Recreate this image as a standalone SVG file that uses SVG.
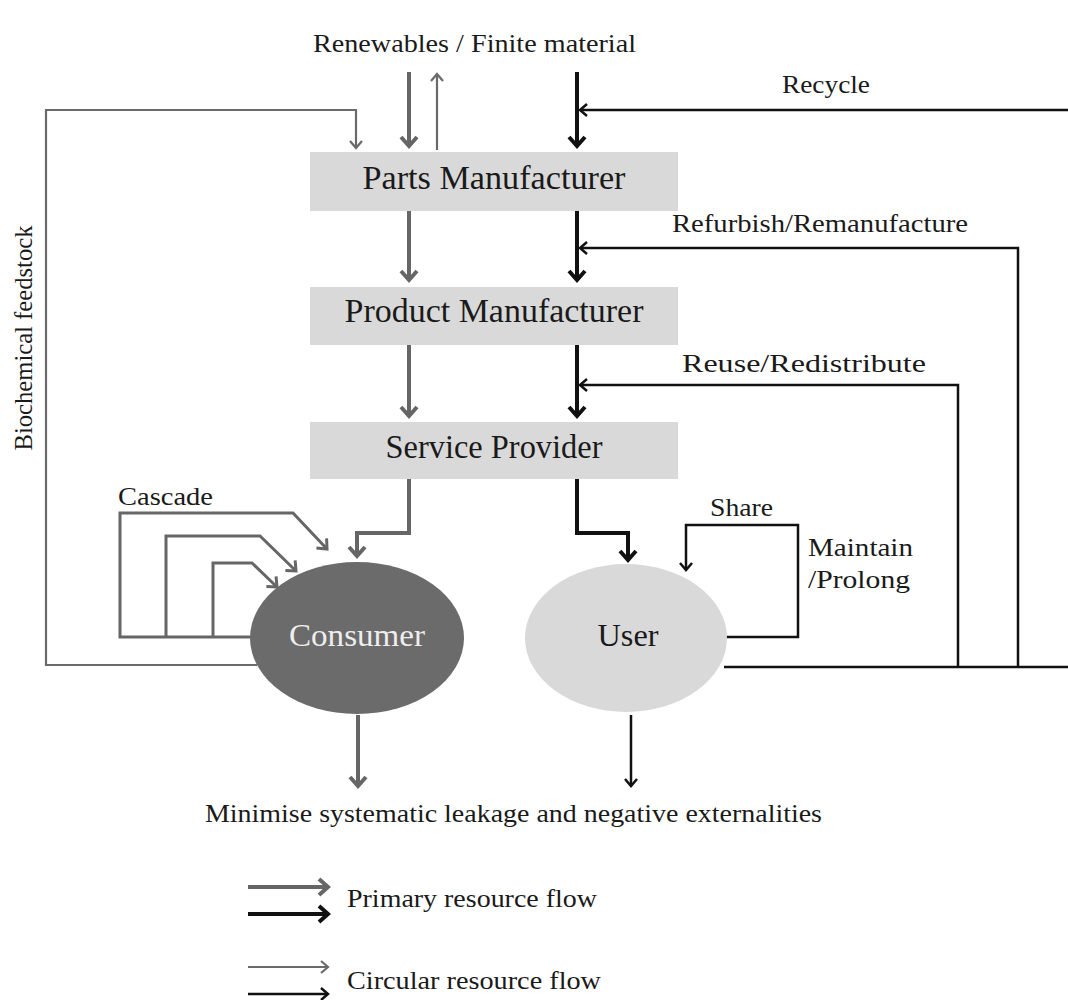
<svg xmlns="http://www.w3.org/2000/svg" width="1068" height="1000" viewBox="0 0 1068 1000">
<style>
text{font-family:"Liberation Serif","Times New Roman",serif;fill:#1a1a1a}
.lbl{font-size:26px}
.box{font-size:33px}
.box rect{fill:#d9d9d9}
.pg{fill:none;stroke:#666;stroke-width:4}
.pb{fill:none;stroke:#111;stroke-width:4}
.cg{fill:none;stroke:#6a6a6a;stroke-width:2.2}
.cb{fill:none;stroke:#111;stroke-width:2.5}
.cas{fill:none;stroke:#666;stroke-width:3}
</style>
<defs>
<marker id="mpg" viewBox="-14 -10 20 20" refX="0" refY="0" markerWidth="20" markerHeight="20" markerUnits="userSpaceOnUse" orient="auto" overflow="visible"><path d="M-9,-8 L0,0 L-9,8" fill="none" stroke="#666" stroke-width="4"/></marker>
<marker id="mpb" viewBox="-14 -10 20 20" refX="0" refY="0" markerWidth="20" markerHeight="20" markerUnits="userSpaceOnUse" orient="auto" overflow="visible"><path d="M-9,-8 L0,0 L-9,8" fill="none" stroke="#111" stroke-width="4"/></marker>
<marker id="mcg" viewBox="-14 -10 20 20" refX="0" refY="0" markerWidth="20" markerHeight="20" markerUnits="userSpaceOnUse" orient="auto" overflow="visible"><path d="M-7,-6 L0,0 L-7,6" fill="none" stroke="#6a6a6a" stroke-width="2.2"/></marker>
<marker id="mcb" viewBox="-14 -10 20 20" refX="0" refY="0" markerWidth="20" markerHeight="20" markerUnits="userSpaceOnUse" orient="auto" overflow="visible"><path d="M-7,-6 L0,0 L-7,6" fill="none" stroke="#111" stroke-width="2.5"/></marker>
<marker id="mcas" viewBox="-14 -10 20 20" refX="0" refY="0" markerWidth="20" markerHeight="20" markerUnits="userSpaceOnUse" orient="auto" overflow="visible"><path d="M-8,-7 L0,0 L-8,7" fill="none" stroke="#666" stroke-width="3"/></marker>
</defs>
<rect width="1068" height="1000" fill="#fff"/>

<g id="connectors">
<path class="pg" d="M409,72 V146" marker-end="url(#mpg)"/>
<path class="cg" d="M437,150 V74" marker-end="url(#mcg)"/>
<path class="pb" d="M577,72 V146" marker-end="url(#mpb)"/>
<path class="cb" d="M1068,110 H580" marker-end="url(#mcb)"/>
<path class="cg" d="M257,665 H46 V110 H356 V148" marker-end="url(#mcg)"/>
<path class="pg" d="M409,211 V280" marker-end="url(#mpg)"/>
<path class="pb" d="M577,211 V280" marker-end="url(#mpb)"/>
<path class="pg" d="M409,345 V416" marker-end="url(#mpg)"/>
<path class="pb" d="M577,345 V416" marker-end="url(#mpb)"/>
<path class="cb" d="M724,667 H1068"/>
<path class="cb" d="M1018,667 V248 H580" marker-end="url(#mcb)"/>
<path class="cb" d="M958,667 V385 H580" marker-end="url(#mcb)"/>
<path class="pg" d="M409,479 V533 H357 V556" marker-end="url(#mpg)"/>
<path class="pb" d="M577,479 V533 H628 V560" marker-end="url(#mpb)"/>
<path class="cb" d="M722,637 H798 V525 H686 V570" marker-end="url(#mcb)"/>
<path class="cas" d="M255,637 H120 V513 H293 L327,549" marker-end="url(#mcas)"/>
<path class="cas" d="M166,637 V536 H260 L296,571" marker-end="url(#mcas)"/>
<path class="cas" d="M213,637 V563 H252 L277,587" marker-end="url(#mcas)"/>
<path class="pg" d="M358,715 V786" marker-end="url(#mpg)"/>
<path class="cb" d="M631,715 V786" marker-end="url(#mcb)"/>
<path class="pg" d="M248,887 H328" marker-end="url(#mpg)"/>
<path class="pb" d="M248,914 H328" marker-end="url(#mpb)"/>
<path class="cg" d="M248,967 H328" marker-end="url(#mcg)"/>
<path class="cb" d="M248,994 H328" marker-end="url(#mcb)"/>
</g>

<g id="parts-manufacturer" class="box"><rect x="310" y="152" width="368" height="59"/><text x="494" y="189" text-anchor="middle" textLength="263" lengthAdjust="spacingAndGlyphs">Parts Manufacturer</text></g>
<g id="product-manufacturer" class="box"><rect x="310" y="287" width="368" height="58"/><text x="494" y="322" text-anchor="middle" textLength="299" lengthAdjust="spacingAndGlyphs">Product Manufacturer</text></g>
<g id="service-provider" class="box"><rect x="310" y="422" width="368" height="57"/><text x="494" y="458" text-anchor="middle" textLength="217" lengthAdjust="spacingAndGlyphs">Service Provider</text></g>
<g id="consumer"><ellipse cx="357" cy="638" rx="107" ry="76" fill="#6b6b6b"/><text x="357" y="646" text-anchor="middle" font-size="32" style="fill:#eeeeee" textLength="136" lengthAdjust="spacingAndGlyphs">Consumer</text></g>
<g id="user"><ellipse cx="626" cy="638" rx="101" ry="74" fill="#d9d9d9"/><text x="628" y="646" text-anchor="middle" font-size="32" textLength="61" lengthAdjust="spacingAndGlyphs">User</text></g>

<g id="labels" class="lbl">
<text x="313" y="52" textLength="323" lengthAdjust="spacingAndGlyphs">Renewables / Finite material</text>
<text x="782" y="93" textLength="88" lengthAdjust="spacingAndGlyphs">Recycle</text>
<text x="672" y="232" textLength="296" lengthAdjust="spacingAndGlyphs">Refurbish/Remanufacture</text>
<text x="682" y="372" textLength="244" lengthAdjust="spacingAndGlyphs">Reuse/Redistribute</text>
<text x="118" y="505" textLength="95" lengthAdjust="spacingAndGlyphs">Cascade</text>
<text x="710" y="516" textLength="63" lengthAdjust="spacingAndGlyphs">Share</text>
<text x="808" y="556" textLength="105" lengthAdjust="spacingAndGlyphs">Maintain</text>
<text x="808" y="588" textLength="102" lengthAdjust="spacingAndGlyphs">/Prolong</text>
<text x="32" y="338" text-anchor="middle" transform="rotate(-90 32 338)" textLength="225" lengthAdjust="spacingAndGlyphs">Biochemical feedstock</text>
<text x="205" y="822" textLength="617" lengthAdjust="spacingAndGlyphs">Minimise systematic leakage and negative externalities</text>
<text x="347" y="907" textLength="250" lengthAdjust="spacingAndGlyphs">Primary resource flow</text>
<text x="347" y="989" textLength="254" lengthAdjust="spacingAndGlyphs">Circular resource flow</text>
</g>
</svg>
